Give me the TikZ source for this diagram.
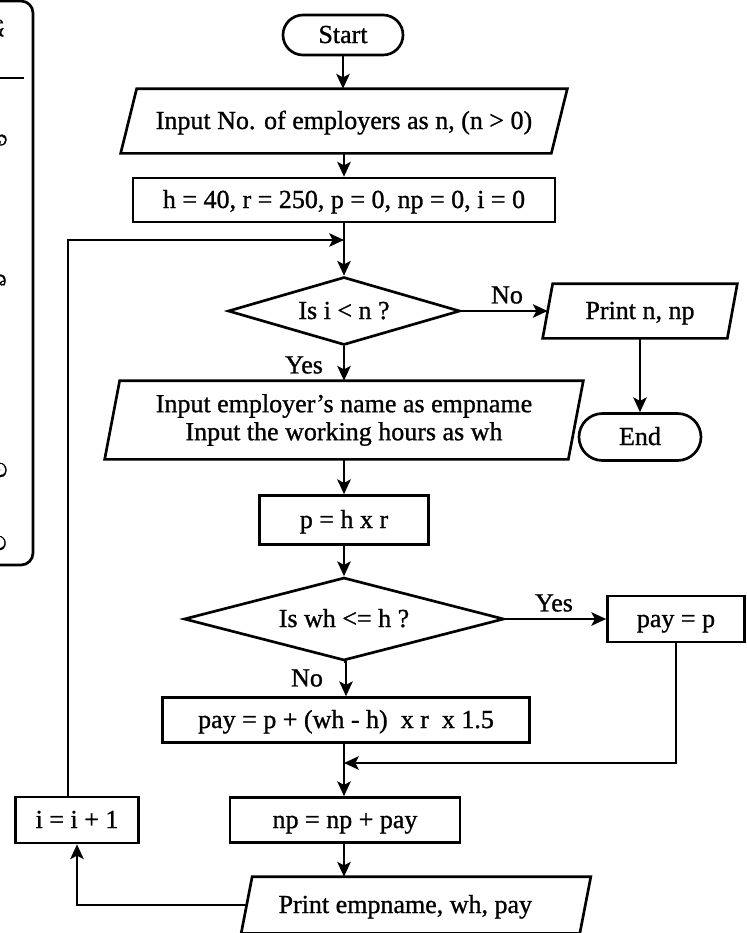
\documentclass[tikz,border=0pt]{standalone}
\usepackage{fontspec}
\setmainfont{Liberation Serif}[FakeBold=1]
\newfontfamily\sinhala[Script=Sinhala,FakeBold=1.5]{Abhaya Libre}
\usetikzlibrary{shapes.geometric,shapes.misc,arrows.meta,calc}
% one drawing unit = one pixel of the final image
\newcommand\PX{*0.75pt}
% slanted input/output frame around a borderless body node
\newcommand\ioframe[2]{%
  \draw ($(#1.north west)+(#2/2,0)$) -- ($(#1.north east)+(#2/2,0)$)
     -- ($(#1.south east)-(#2/2,0)$) -- ($(#1.south west)-(#2/2,0)$) -- cycle;}

\begin{document}
\begin{tikzpicture}[x=0.75pt,y=-0.75pt,
  line width=2pt,
  every node/.style={font=\fontsize{19.5}{21}\selectfont},
  flow/.style={-{Stealth[length=11pt,width=10pt,inset=2.5pt]}},
  oneline/.style={text height=13pt, text depth=1pt},
  proc/.style={draw, rectangle, inner sep=0pt, oneline},
  term/.style={draw, rounded rectangle, inner sep=0pt, oneline},
  decision/.style={draw, diamond, inner sep=0pt, oneline},
  iobody/.style={rectangle, inner sep=0pt},
  lbl/.style={inner sep=0pt},
  frag/.style={anchor=east, inner sep=0pt, font=\sinhala\fontsize{19.5}{23}\selectfont},
]
\useasboundingbox (0,0) rectangle (747,933);

% side panel, mostly outside the page
\draw[rounded corners=12\PX] (-30,1) -- (33,1) -- (33,565) -- (-30,565);
\draw[line width=1.4pt] (-5,78) -- (24,78);
\node[frag] (f1) at (6,28) {ද};
\node[frag] (f2) at (9,140) {ග};
\node[frag] (f3) at (8,280) {ශ};
\node[frag] (f4) at (9,470) {ව};
\node[frag] (f5) at (8,543) {ට};

% main column
\node[term, minimum width=120\PX, minimum height=40\PX] (start) at (343,35) {Start};
\node[iobody, oneline, minimum width=428\PX, minimum height=62\PX] (in1) at (344,121)
  {Input No. of employers as n, (n > 0)};
\ioframe{in1}{16}
\node[proc, minimum width=422\PX, minimum height=44\PX] (init) at (344,200)
  {h = 40, r = 250, p = 0, np = 0, i = 0};
\node[decision, minimum width=232\PX, minimum height=68\PX, shape aspect=3.4] (d1) at (344,311)
  {Is i < n ?};
\node[iobody, oneline, minimum width=182\PX, minimum height=52\PX] (pn) at (640,311) {Print n, np};
\ioframe{pn}{10}
\node[term, minimum width=122\PX, minimum height=47\PX] (end) at (640,437) {End};
\node[iobody, minimum width=461\PX, minimum height=76\PX, align=center] (in2) at (344,420)
  {Input employer's name as empname\\Input the working hours as wh};
\ioframe{in2}{15}
\node[proc, minimum width=169\PX, minimum height=49\PX] (p) at (344,520) {p = h x r};
\node[decision, minimum width=320\PX, minimum height=83\PX, shape aspect=3.85] (d2) at (344,619)
  {Is wh <= h ?};
\node[proc, minimum width=137\PX, minimum height=46\PX] (payp) at (676,619) {pay = p};
\node[proc, minimum width=367\PX, minimum height=45\PX] (pay) at (346,720)
  {pay = p + (wh - h) \ x r \ x 1.5};
\node[proc, minimum width=230\PX, minimum height=45\PX] (np) at (345,820) {np = np + pay};
\node[iobody, oneline, minimum width=336\PX, minimum height=54\PX] (pe) at (416,905)
  {Print empname, wh, pay\hspace*{16pt}};
\ioframe{pe}{11}
\node[proc, minimum width=123\PX, minimum height=46\PX] (inc) at (77,820) {i = i + 1};

% branch labels
\node[lbl] (no1) at (507,295) {No};
\node[lbl] (yes1) at (304,365) {Yes};
\node[lbl] (yes2) at (554,603) {Yes};
\node[lbl] (no2) at (307,678) {No};

% connectors
\coordinate (j1) at (344,240);
\coordinate (j2) at (344,763);
\draw[flow] (start.south) -- (in1.north -| start.south);
\draw[flow] (in1.south) -- (init.north);
\draw[flow] (init.south) -- (d1.north);
\draw[flow] ($(inc.north)+(-9,0)$) |- (j1);
\draw[flow] (d1.east) -- (pn.west);
\draw[flow] (pn.south) -- (end.north);
\draw[flow] (d1.south) -- (in2.north);
\draw[flow] (in2.south) -- (p.north);
\draw[flow] (p.south) -- (d2.north);
\draw[flow] (d2.east) -- (payp.west);
\draw[flow] (d2.south) -- (pay.north |- d2.south) -- (pay.north);
\draw[flow] (payp.south) |- (j2);
\draw[flow] (pay.south -| j2) -- (np.north -| j2);
\draw[flow] (np.south -| j2) -- (pe.north -| j2);
\draw[flow] (pe.west) -| (inc.south);
\end{tikzpicture}
\end{document}
